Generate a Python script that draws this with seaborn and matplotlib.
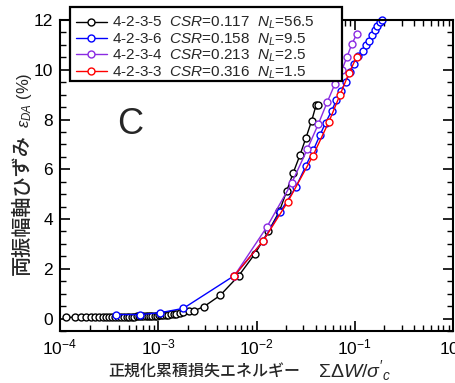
import matplotlib
matplotlib.use("Agg")
import matplotlib.pyplot as plt
import matplotlib.patches as mpatches
import seaborn as sns
import numpy as np
from matplotlib.ticker import LogLocator, MultipleLocator, NullFormatter, LogFormatterSciNotation

# ---- data ----
labels = ["4-2-3-5", "4-2-3-6", "4-2-3-4", "4-2-3-3"]
csr = ["0.117", "0.158", "0.213", "0.316"]
nl = ["56.5", "9.5", "2.5", "1.5"]
colors = ["#000000", "#0000ff", "#8a2be2", "#ff0000"]

x_4235 = [1.15e-4, 1.42e-4, 1.62e-4, 1.84e-4, 2.05e-4, 2.27e-4, 2.49e-4, 2.72e-4, 2.94e-4, 3.17e-4,
          3.41e-4, 3.66e-4, 3.92e-4, 4.19e-4, 4.47e-4, 4.76e-4, 5.06e-4, 5.37e-4, 5.69e-4, 6.02e-4,
          6.36e-4, 6.71e-4, 7.07e-4, 7.45e-4, 7.85e-4, 8.27e-4, 8.71e-4, 9.17e-4, 9.65e-4, 1.02e-3,
          1.07e-3, 1.13e-3, 1.19e-3, 1.26e-3, 1.34e-3, 1.43e-3, 1.53e-3, 1.65e-3, 1.80e-3,
          2.07e-3, 2.33e-3, 2.92e-3, 4.26e-3, 6.59e-3, 9.66e-3, 1.32e-2, 1.71e-2, 2.03e-2, 2.37e-2,
          2.77e-2, 3.19e-2, 3.65e-2, 4.04e-2, 4.26e-2]
y_4235 = [0.05, 0.05, 0.05, 0.05, 0.05, 0.06, 0.06, 0.06, 0.06, 0.06,
          0.07, 0.07, 0.07, 0.07, 0.07, 0.08, 0.08, 0.08, 0.08, 0.09,
          0.09, 0.09, 0.10, 0.10, 0.10, 0.11, 0.11, 0.12, 0.12, 0.13,
          0.13, 0.14, 0.15, 0.16, 0.17, 0.18, 0.20, 0.22, 0.25,
          0.29, 0.32, 0.48, 0.93, 1.72, 2.61, 3.50, 4.31, 5.13, 5.87,
          6.57, 7.27, 7.96, 8.58, 8.58]

x_4236 = [3.69e-4, 6.52e-4, 1.03e-3, 1.80e-3, 5.97e-3, 1.16e-2, 1.73e-2, 2.51e-2, 3.17e-2, 3.79e-2,
          4.43e-2, 5.06e-2, 5.82e-2, 6.48e-2, 7.20e-2, 8.09e-2, 8.95e-2, 9.90e-2, 0.1087, 0.1205,
          0.130, 0.1397, 0.149, 0.161, 0.170, 0.181, 0.191]
y_4236 = [0.16, 0.16, 0.23, 0.41, 1.73, 3.10, 4.27, 5.27, 6.13, 6.77,
          7.38, 7.88, 8.35, 8.77, 9.15, 9.49, 9.93, 10.23, 10.54, 10.74,
          11.00, 11.17, 11.41, 11.58, 11.77, 11.92, 12.0]

x_4234 = [5.97e-3, 1.27e-2, 2.28e-2, 3.29e-2, 4.26e-2, 5.26e-2, 6.30e-2, 7.42e-2, 8.34e-2, 9.38e-2, 0.1054]
y_4234 = [1.73, 3.67, 5.44, 6.81, 7.82, 8.71, 9.44, 10.00, 10.52, 11.05, 11.45]

x_4233 = [5.97e-3, 1.16e-2, 2.08e-2, 3.74e-2, 5.47e-2, 7.08e-2, 8.74e-2, 0.1047]
y_4233 = [1.73, 3.10, 4.69, 6.53, 7.92, 8.99, 9.87, 10.52]

xs = [x_4235, x_4236, x_4234, x_4233]
ys = [y_4235, y_4236, y_4234, y_4233]

# ---- style ----
sns.set_style("ticks")
plt.rcParams["font.family"] = ["Liberation Sans", "Noto Sans CJK JP"]
plt.rcParams["mathtext.fontset"] = "custom"
plt.rcParams["mathtext.rm"] = "Liberation Sans"
plt.rcParams["mathtext.it"] = "Liberation Sans:italic"
plt.rcParams["mathtext.bf"] = "Liberation Sans:bold"

W, H = 455, 383
fig = plt.figure(figsize=(W/100, H/100), dpi=100)
ax = fig.add_axes([60/W, 1-331/H, 393/W, 311/H])

for i in range(4):
    lab = labels[i] + "  $\\it{CSR}$=" + csr[i] + "  $\\it{N_L}$=" + nl[i]
    sns.lineplot(x=xs[i], y=ys[i], ax=ax, color=colors[i], linewidth=1.0,
                 marker="o", markersize=5, markerfacecolor="white",
                 markeredgecolor=colors[i], markeredgewidth=1.0,
                 estimator=None, sort=False, label=lab, clip_on=False)

ax.set_xscale("log")
ax.set_xlim(1e-4, 1)
ax.set_ylim(-0.5, 12)
ax.xaxis.set_major_locator(LogLocator(base=10, numticks=10))
ax.xaxis.set_minor_locator(LogLocator(base=10, subs=np.arange(2, 10), numticks=20))
ax.xaxis.set_minor_formatter(NullFormatter())
ax.xaxis.set_major_formatter(LogFormatterSciNotation())
ax.yaxis.set_major_locator(MultipleLocator(2))
ax.yaxis.set_minor_locator(MultipleLocator(0.5))

ax.tick_params(which="both", direction="in", top=True, right=True, labelsize=12.5, colors="black")
ax.tick_params(which="major", length=7, width=1.2, pad=5)
ax.tick_params(which="minor", length=4, width=1.0)
for s in ax.spines.values():
    s.set_linewidth(1.5)
    s.set_color("black")
ax.set_xlabel("")
ax.set_ylabel("")

# axis labels (Japanese part + math part)
fig.text(204/W, 1-377/H, "正規化累積損失エネルギー", fontsize=11.5, ha="center", va="baseline",
         family=["Noto Sans CJK JP"], fontweight="medium")
fig.text(318/W, 1-377/H, "$\\Sigma\\mathit{\\Delta W/\\sigma'_c}$", fontsize=14, ha="left", va="baseline")
fig.text(22/W, 1-205/H, "両振幅軸ひずみ", fontsize=14.5, rotation=90, ha="center", va="center",
         family=["Noto Sans CJK JP"], fontweight="medium")
fig.text(24/W, 1-100/H, "$\\mathit{\\varepsilon_{DA}}$ (%)", fontsize=12, rotation=90, ha="center", va="center")

ax.text(0.145, 0.634, "C", transform=ax.transAxes, fontsize=26, va="baseline", ha="left")

# legend with manual frame
handles, labs = ax.get_legend_handles_labels()
if ax.get_legend() is not None:
    ax.get_legend().remove()
rect = mpatches.Rectangle((70/W, 1-81/H), 272/W, 74/H, transform=fig.transFigure,
                          facecolor="white", edgecolor="black", linewidth=1.6, zorder=5)
fig.patches.append(rect)
leg = fig.legend(handles, labs, loc="upper left", bbox_to_anchor=(76/W, 1-15/H),
                 borderaxespad=0, borderpad=0, fontsize=11, frameon=False,
                 handlelength=2.0, handletextpad=0.35, labelspacing=0.0)
leg.set_zorder(10)

fig.savefig("out.png", dpi=100)
